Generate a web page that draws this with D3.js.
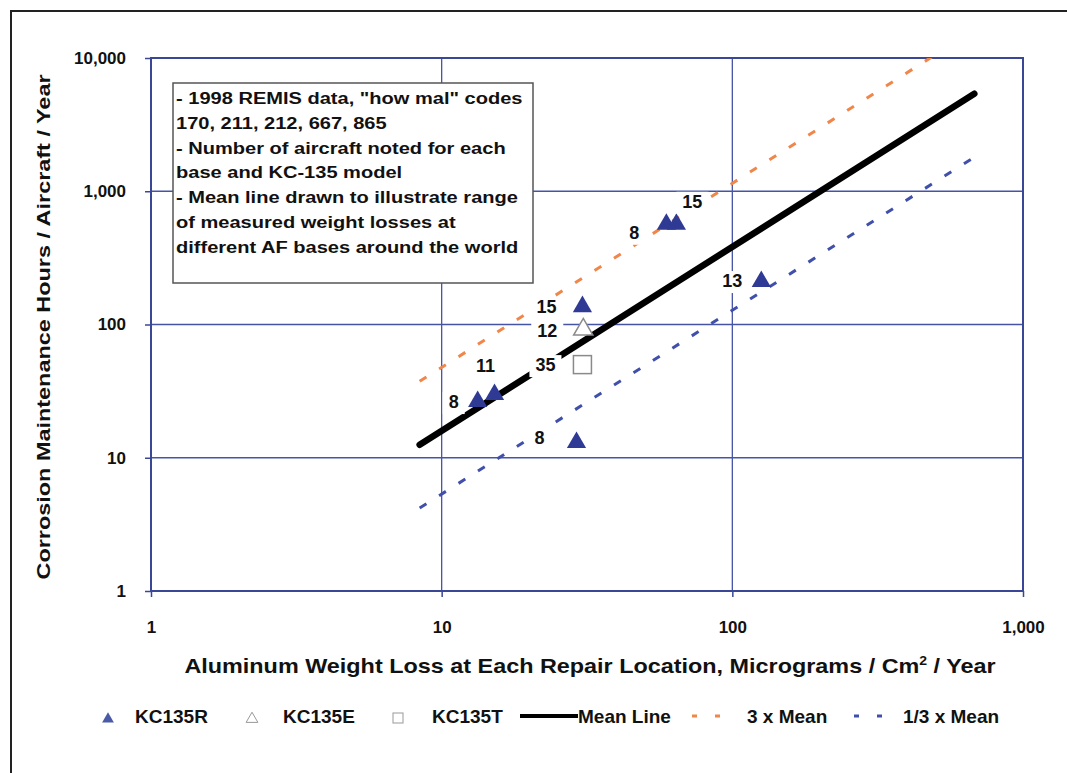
<!DOCTYPE html>
<html lang="en">
<head>
    <meta charset="UTF-8">
    <title>Corrosion Maintenance vs Aluminum Weight Loss</title>
    <style>
        body {
            margin: 0;
            background-color: #ffffff;
            overflow: hidden;
            font-family: Arial, "Liberation Sans", sans-serif;
        }
        svg {
            display: block;
        }
        .grid line {
            stroke: #4654a6;
            stroke-width: 1.3;
        }
        .axis path {
            display: none;
        }
        .axis line {
            stroke: #3a4796;
            stroke-width: 1.5;
        }
        .axis text {
            font-size: 17px;
            font-weight: bold;
            fill: #111;
        }
        .title {
            font-weight: bold;
            fill: #111;
        }
        .note {
            font-size: 17px;
            font-weight: bold;
            fill: #111;
        }
        .count {
            font-size: 18px;
            font-weight: bold;
            fill: #111;
        }
        .legend text {
            font-size: 19px;
            font-weight: bold;
            fill: #111;
        }
    </style>
</head>
<body>
    <svg id="chart" width="1067" height="773"></svg>

    <script src="https://d3js.org/d3.v7.min.js"></script>
    <script>
        // tick values of both log axes
        const xTicks = [1, 10, 100, 1000];
        const yTicks = [1, 10, 100, 1000, 10000];

        // KC135R points (weight loss, hours) and aircraft counts
        const kc135rX = [13.3, 15.2, 30.5, 29.1, 59.3, 64.2, 125.8];
        const kc135rY = [26.4, 29.8, 136, 13.0, 565, 565, 210];
        const kc135rN = ["8", "11", "15", "8", "8", "15", "13"];

        const kc135eX = [30.7];
        const kc135eY = [91.7];
        const kc135eN = ["12"];

        const kc135tX = [30.5];
        const kc135tY = [50.0];
        const kc135tN = ["35"];

        // reference lines, end points
        const lineX = [8.4, 680];
        const meanY = [12.5, 5400];
        const upperY = [37.5, 16200];
        const lowerY = [4.2, 1800];

        const noteLines = [
            "- 1998 REMIS data, \"how mal\" codes",
            "170, 211, 212, 667, 865",
            "- Number of aircraft noted for each",
            "base and KC-135 model",
            "- Mean line drawn to illustrate range",
            "of measured weight losses at",
            "different AF bases around the world"
        ];

        const svg = d3.select("#chart");
        const pLeft = 151, pRight = 1023, pTop = 58, pBottom = 591;

        const x = d3.scaleLog().domain([1, 1000]).range([pLeft, pRight]);
        const y = d3.scaleLog().domain([1, 10000]).range([pBottom, pTop]);

        // outer frame, only top and left edges are in view
        svg.append("path")
            .attr("d", "M11,773V11H1067")
            .attr("fill", "none")
            .attr("stroke", "#222")
            .attr("stroke-width", 2);

        // gridlines
        const grid = svg.append("g").attr("class", "grid");
        grid.selectAll(".gx")
            .data(xTicks.slice(1, -1))
            .enter().append("line")
            .attr("x1", d => x(d)).attr("x2", d => x(d))
            .attr("y1", pTop).attr("y2", pBottom);
        grid.selectAll(".gy")
            .data(yTicks.slice(1, -1))
            .enter().append("line")
            .attr("x1", pLeft).attr("x2", pRight)
            .attr("y1", d => y(d)).attr("y2", d => y(d));

        // axes
        const fmt = d3.format(",");
        svg.append("g")
            .attr("class", "axis")
            .attr("transform", `translate(0,${pBottom})`)
            .call(d3.axisBottom(x).tickValues(xTicks).tickFormat(fmt).tickSize(6).tickPadding(24));
        svg.append("g")
            .attr("class", "axis")
            .attr("transform", `translate(${pLeft},0)`)
            .call(d3.axisLeft(y).tickValues(yTicks).tickFormat(fmt).tickSize(6).tickPadding(19));

        // plot frame
        svg.append("rect")
            .attr("x", pLeft).attr("y", pTop)
            .attr("width", pRight - pLeft).attr("height", pBottom - pTop)
            .attr("fill", "none")
            .attr("stroke", "#3a4796")
            .attr("stroke-width", 2);

        // lines, clipped to the plot area
        svg.append("clipPath").attr("id", "plotClip")
            .append("rect")
            .attr("x", pLeft).attr("y", pTop)
            .attr("width", pRight - pLeft).attr("height", pBottom - pTop);

        const line = d3.line().x(d => x(d[0])).y(d => y(d[1]));
        const lines = svg.append("g").attr("clip-path", "url(#plotClip)");

        lines.append("path")
            .datum(d3.zip(lineX, upperY))
            .attr("d", line)
            .attr("fill", "none")
            .attr("stroke", "#f0864a")
            .attr("stroke-width", 3)
            .attr("stroke-dasharray", "8,15");

        lines.append("path")
            .datum(d3.zip(lineX, lowerY))
            .attr("d", line)
            .attr("fill", "none")
            .attr("stroke", "#4050aa")
            .attr("stroke-width", 3)
            .attr("stroke-dasharray", "8,15");

        lines.append("path")
            .datum(d3.zip(lineX, meanY))
            .attr("d", line)
            .attr("fill", "none")
            .attr("stroke", "#000")
            .attr("stroke-width", 6.5)
            .attr("stroke-linecap", "round");

        // markers
        const tri = d3.symbol().type(d3.symbolTriangle).size(160);
        svg.selectAll(".r")
            .data(d3.zip(kc135rX, kc135rY))
            .enter().append("path")
            .attr("d", tri)
            .attr("transform", d => `translate(${x(d[0])},${y(d[1])})`)
            .attr("fill", "#2f3a94");

        svg.selectAll(".e")
            .data(d3.zip(kc135eX, kc135eY))
            .enter().append("path")
            .attr("d", tri)
            .attr("transform", d => `translate(${x(d[0])},${y(d[1])})`)
            .attr("fill", "#fff")
            .attr("stroke", "#8a8a8a")
            .attr("stroke-width", 1.5);

        svg.selectAll(".t")
            .data(d3.zip(kc135tX, kc135tY))
            .enter().append("rect")
            .attr("x", d => x(d[0]) - 9)
            .attr("y", d => y(d[1]) - 9)
            .attr("width", 18).attr("height", 18)
            .attr("fill", "#fff")
            .attr("stroke", "#8a8a8a")
            .attr("stroke-width", 1.5);

        // aircraft count labels, with white boxes like the original
        const labelOffsets = [[-24, 0], [-9, -29], [-36, 0], [-37, -5], [-32, 8], [16, -23], [-29, -1]];
        const counts = [];
        kc135rN.forEach((n, i) => counts.push({ x: kc135rX[i], y: kc135rY[i], n: n, dx: labelOffsets[i][0], dy: labelOffsets[i][1] }));
        counts.push({ x: kc135eX[0], y: kc135eY[0], n: kc135eN[0], dx: -36, dy: 1 });
        counts.push({ x: kc135tX[0], y: kc135tY[0], n: kc135tN[0], dx: -37, dy: 0 });

        const countG = svg.append("g");
        counts.forEach(c => {
            const t = countG.append("text")
                .attr("class", "count")
                .attr("x", x(c.x) + c.dx)
                .attr("y", y(c.y) + c.dy)
                .attr("text-anchor", "middle")
                .attr("dy", "0.36em")
                .text(c.n);
            const b = t.node().getBBox();
            countG.insert("rect", () => t.node())
                .attr("x", b.x - 6).attr("y", b.y)
                .attr("width", b.width + 12).attr("height", b.height + 2)
                .attr("fill", "#fff");
        });

        // note box
        svg.append("rect")
            .attr("x", 173).attr("y", 83)
            .attr("width", 360).attr("height", 200)
            .attr("fill", "#fff")
            .attr("stroke", "#555")
            .attr("stroke-width", 1.5);

        svg.append("g")
            .attr("transform", "translate(176,0) scale(1.18,1)")
            .selectAll("text")
            .data(noteLines)
            .enter().append("text")
            .attr("class", "note")
            .attr("x", 0)
            .attr("y", (d, i) => 104 + i * 24.8)
            .text(d => d);

        // axis titles
        svg.append("text")
            .attr("class", "title")
            .attr("transform", "translate(50,327) rotate(-90)")
            .attr("text-anchor", "middle")
            .attr("textLength", 505)
            .attr("lengthAdjust", "spacingAndGlyphs")
            .style("font-size", "19px")
            .text("Corrosion Maintenance Hours / Aircraft / Year");

        const xt = svg.append("text")
            .attr("class", "title")
            .attr("transform", "translate(590,673) scale(1.17,1)")
            .attr("text-anchor", "middle")
            .style("font-size", "20px");
        xt.append("tspan").text("Aluminum Weight Loss at Each Repair Location, Micrograms / Cm");
        xt.append("tspan").attr("dy", -8).style("font-size", "12px").text("2");
        xt.append("tspan").attr("dy", 8).text(" / Year");

        // legend
        const legend = svg.append("g").attr("class", "legend");
        const ly = 716;
        legend.append("path")
            .attr("d", d3.symbol().type(d3.symbolTriangle).size(60))
            .attr("transform", `translate(108,${ly + 3})`)
            .attr("fill", "#4a5aa6");
        legend.append("path")
            .attr("d", d3.symbol().type(d3.symbolTriangle).size(60))
            .attr("transform", `translate(252,${ly + 3})`)
            .attr("fill", "#fff").attr("stroke", "#999").attr("stroke-width", 1);
        legend.append("rect")
            .attr("x", 393).attr("y", ly - 3)
            .attr("width", 10).attr("height", 10)
            .attr("fill", "#fff").attr("stroke", "#999").attr("stroke-width", 1);
        legend.append("line")
            .attr("x1", 520).attr("x2", 578)
            .attr("y1", ly).attr("y2", ly)
            .attr("stroke", "#000").attr("stroke-width", 4);
        legend.append("line")
            .attr("x1", 692).attr("x2", 722)
            .attr("y1", ly).attr("y2", ly)
            .attr("stroke", "#f0864a").attr("stroke-width", 3)
            .attr("stroke-dasharray", "5,18");
        legend.append("line")
            .attr("x1", 854).attr("x2", 884)
            .attr("y1", ly).attr("y2", ly)
            .attr("stroke", "#4050aa").attr("stroke-width", 3)
            .attr("stroke-dasharray", "5,18");

        const legendText = [["KC135R", 135], ["KC135E", 283], ["KC135T", 432], ["Mean Line", 578], ["3 x Mean", 747], ["1/3 x Mean", 903]];
        legend.selectAll("text")
            .data(legendText)
            .enter().append("text")
            .attr("x", d => d[1])
            .attr("y", ly)
            .attr("dy", "0.36em")
            .text(d => d[0]);
    </script>
</body>
</html>
